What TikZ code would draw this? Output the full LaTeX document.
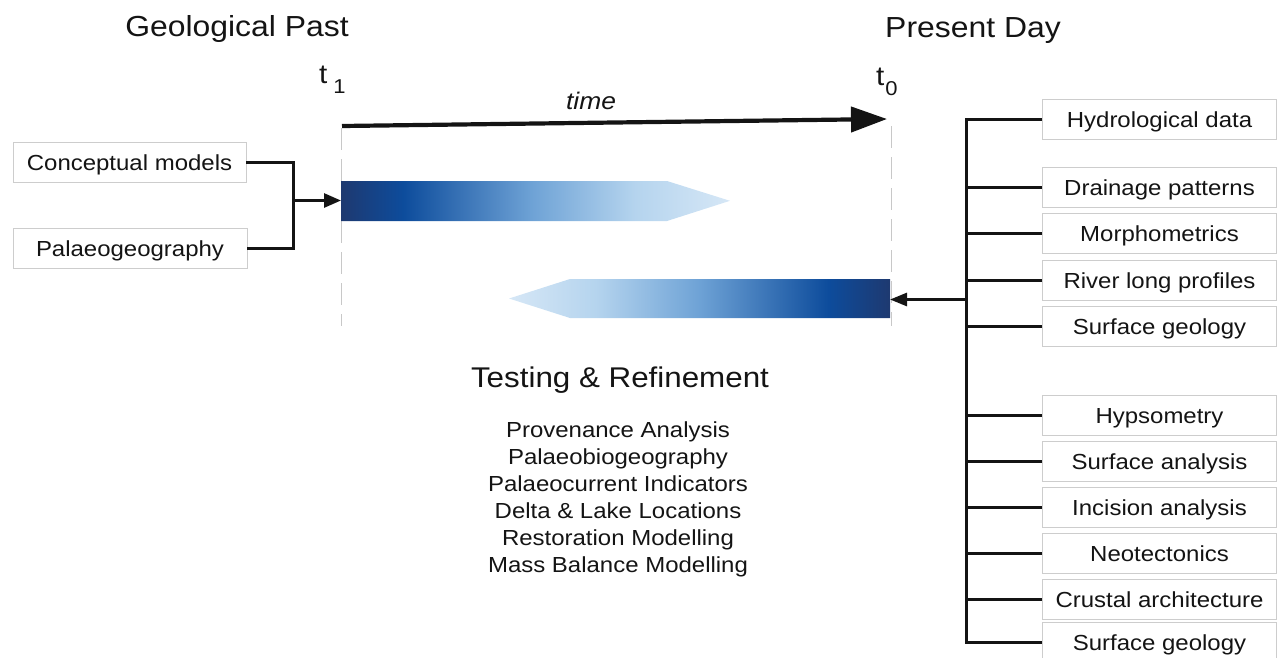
\documentclass[tikz,border=0pt]{standalone}
\usepackage{fontspec}
\setmainfont[FakeStretch=1.1]{Liberation Sans}
\usetikzlibrary{arrows.meta}

% band colours, dark navy to pale blue
\definecolor{bandA}{RGB}{30,57,112}
\definecolor{bandB}{RGB}{13,76,156}
\definecolor{bandC}{RGB}{111,163,214}
\definecolor{bandD}{RGB}{181,212,238}
\definecolor{bandE}{RGB}{214,231,246}
\definecolor{boxline}{RGB}{205,205,205}
\definecolor{guide}{RGB}{200,200,200}
\definecolor{ink}{RGB}{20,20,20}

% dark end on the left (forward model)
\pgfdeclarehorizontalshading{fwdband}{100bp}{color(0bp)=(bandA); color(25bp)=(bandA);
  color(33bp)=(bandB); color(49.7bp)=(bandC); color(62.8bp)=(bandD);
  color(75bp)=(bandE); color(100bp)=(bandE)}
% dark end on the right (inverse model)
\pgfdeclarehorizontalshading{invband}{100bp}{color(0bp)=(bandE); color(25bp)=(bandE);
  color(36.4bp)=(bandD); color(49.8bp)=(bandC); color(66.9bp)=(bandB);
  color(75bp)=(bandA); color(100bp)=(bandA)}

\tikzset{
  heading/.style={font=\fontsize{29}{34}\selectfont, text=ink, inner sep=0pt},
  subhead/.style={font=\fontsize{28.5}{33}\selectfont, text=ink, inner sep=0pt},
  listline/.style={font=\fontsize{21.8}{26}\selectfont, text=ink, inner sep=0pt, anchor=base},
  databox/.style={draw=boxline, line width=0.9pt, fill=white, minimum width=234pt,
    minimum height=39.5pt, inner sep=0pt, text height=17pt, text depth=2pt,
    font=\fontsize{21.8}{26}\selectfont, text=ink},
  link/.style={line width=2.8pt, draw=ink},
  guideline/.style={draw=guide, line width=1pt, dash pattern=on 22pt off 9pt},
}

\begin{document}
\begin{tikzpicture}[x=1pt, y=-1pt]
\useasboundingbox (0,0) rectangle (1279,657);

% headings
\node[heading, anchor=base] (past) at (237,36) {Geological Past};
\node[heading, anchor=base] (present) at (973,37) {Present Day};

% time labels
\node[anchor=base west, inner sep=0pt, text=ink, font=\fontsize{27}{30}\selectfont] (t1) at (319,83)
  {t\kern6pt\raisebox{-10pt}{\fontsize{20}{24}\selectfont 1}};
\node[anchor=base west, inner sep=0pt, text=ink, font=\fontsize{27}{30}\selectfont] (t0) at (876,85)
  {t\kern1pt\raisebox{-10pt}{\fontsize{20}{24}\selectfont 0}};
\node[anchor=base, inner sep=0pt, text=ink, font=\fontsize{24}{28}\selectfont\itshape] (timelbl) at (591,109) {time};

% guide lines at t1 and t0
\draw[guideline] (341,128) -- (341,326);
\draw[guideline] (891,126) -- (891,326);

% time axis
\coordinate (tstart) at (342,126);
\coordinate (tend) at (887,119);
\draw[line width=4.2pt, draw=ink, -{Triangle[length=36pt,width=25pt]}] (tstart) -- (tend);

% forward and inverse bands
\shade[shading=fwdband] (341,181) -- (667,181) -- (730,200.8) -- (667,221) -- (341,221) -- cycle;
\shade[shading=invband] (890,279) -- (570,279) -- (509,298.5) -- (570,318) -- (890,318) -- cycle;
\coordinate (fwdin) at (341,200.5);
\coordinate (invin) at (890,299.5);

% inputs to the forward model
\node[databox, minimum width=233pt] (concept) at (129.5,162.5) {Conceptual models};
\node[databox] (palaeo) at (130,248.5) {Palaeogeography};
\coordinate (lj) at (293.5,200.5);
\draw[link] (concept.east) -| (lj) |- (palaeo.east);
\draw[link, -{Triangle[length=17pt,width=14pt]}] (lj) -- (fwdin);

% central text
\node[subhead, anchor=base] (testing) at (620,387) {Testing \& Refinement};
\node[listline] (m1) at (618,437) {Provenance Analysis};
\node[listline] (m2) at (618,464) {Palaeobiogeography};
\node[listline] (m3) at (618,491) {Palaeocurrent Indicators};
\node[listline] (m4) at (618,518) {Delta \& Lake Locations};
\node[listline] (m5) at (618,545) {Restoration Modelling};
\node[listline] (m6) at (618,572) {Mass Balance Modelling};

% present-day data sources
\node[databox] (d1) at (1159.5,119.5) {Hydrological data};
\node[databox] (d2) at (1159.5,187.5) {Drainage patterns};
\node[databox] (d3) at (1159.5,233.5) {Morphometrics};
\node[databox] (d4) at (1159.5,280.5) {River long profiles};
\node[databox] (d5) at (1159.5,326.5) {Surface geology};
\node[databox] (d6) at (1159.5,415.5) {Hypsometry};
\node[databox] (d7) at (1159.5,461.5) {Surface analysis};
\node[databox] (d8) at (1159.5,507.5) {Incision analysis};
\node[databox] (d9) at (1159.5,553.5) {Neotectonics};
\node[databox] (d10) at (1159.5,599.5) {Crustal architecture};
\node[databox] (d11) at (1159.5,642.5) {Surface geology};

\coordinate (rtop) at (966.5,119.5);
\coordinate (rbot) at (966.5,642.5);
\coordinate (rj) at (966.5,299.5);
\draw[link] (d1.west) -- (rtop) -- (rbot) -- (d11.west);
\foreach \k in {2,...,10} {
  \draw[link] (d\k.west) -- (d\k.west -| rtop);
}
\draw[link, -{Triangle[length=17pt,width=13pt]}] (rj) -- (invin);

\end{tikzpicture}
\end{document}
